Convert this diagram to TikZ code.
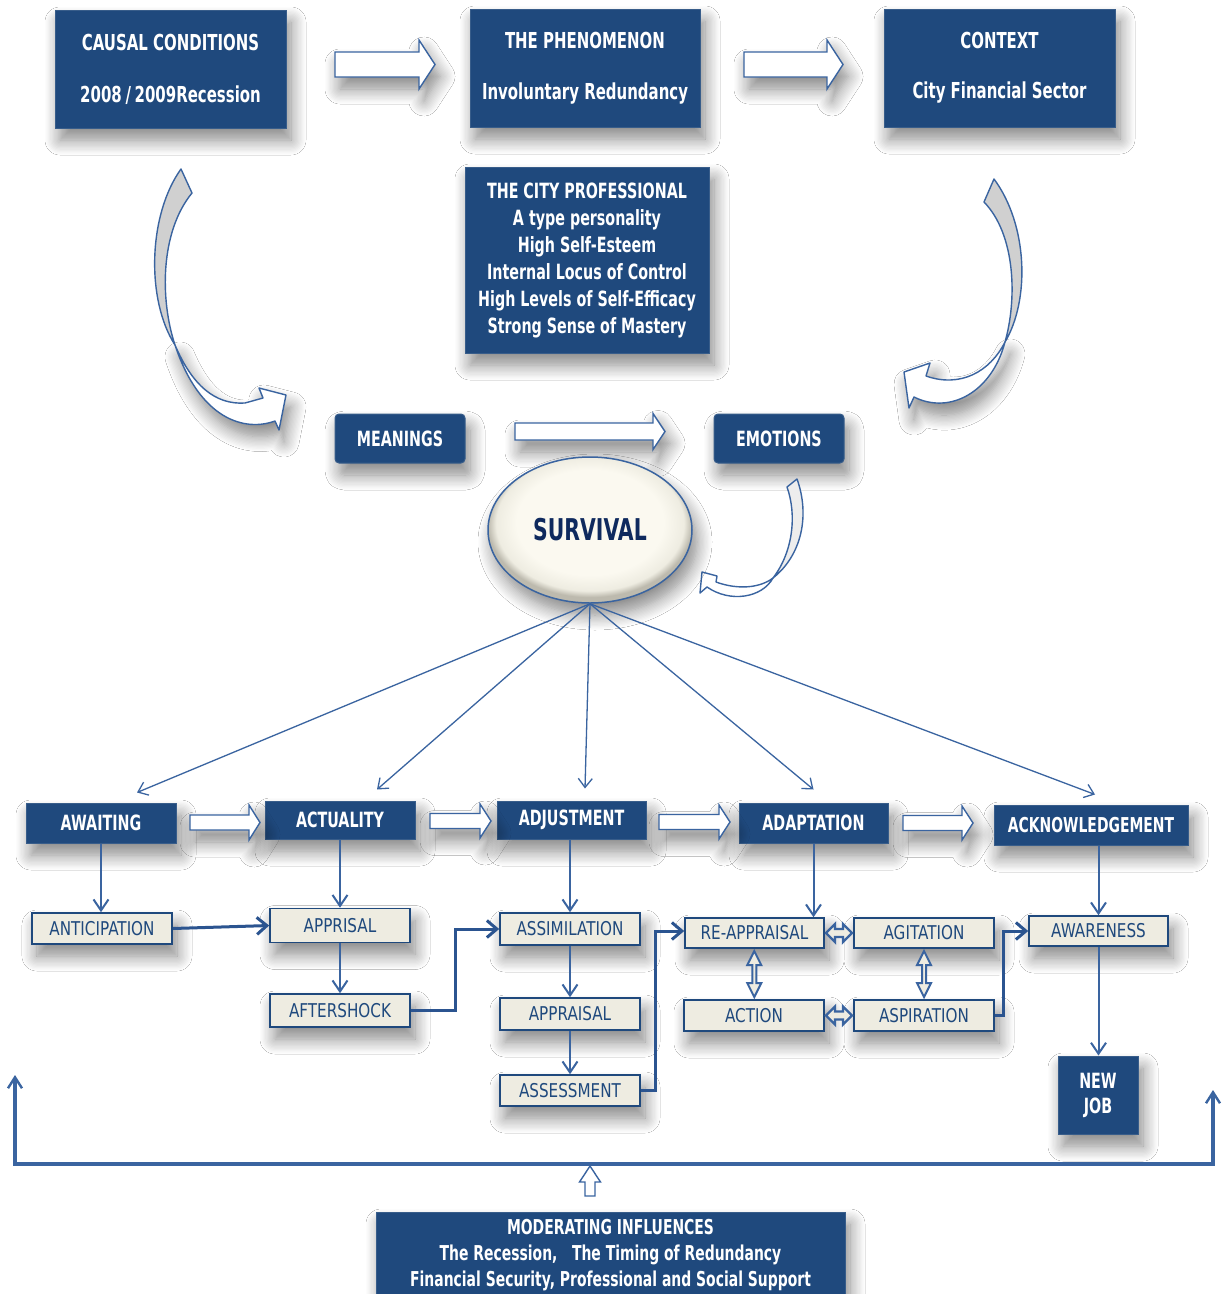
\documentclass[tikz,border=0pt]{standalone}
\usepackage{fontspec}
\setmainfont{DejaVu Sans}
\newfontfamily\cond[FakeStretch=0.68]{DejaVu Sans}
\newfontfamily\condr[FakeStretch=0.8]{DejaVu Sans}
\usetikzlibrary{arrows.meta,calc,shadows.blur,shapes.geometric}

\definecolor{navy}{HTML}{1F497D}
\definecolor{navyedge}{HTML}{385D8A}
\definecolor{link}{HTML}{3A64A0}
\definecolor{linkdark}{HTML}{2B5490}
\definecolor{paper}{HTML}{EEECE1}
\definecolor{creamhi}{HTML}{FBF9F0}
\definecolor{creamlo}{HTML}{BDBAAE}
\definecolor{survtext}{HTML}{0F2A5E}
\definecolor{ribbongray}{HTML}{D0D0D0}
\definecolor{ribbonlight}{HTML}{EDEDED}

\pgfdeclareradialshading{survshade}{\pgfpoint{0bp}{4bp}}{%
  color(0bp)=(creamhi); color(18bp)=(creamhi); color(23bp)=(paper);
  color(25bp)=(creamlo); color(50bp)=(creamlo)}

% hollow block arrows (left to right / bottom to top)
\newcommand\harrow[6]{% x1, x2, y, shaft half, head half, head length
  \draw[hollow,shadowed] ({#1},{#3-#4}) -- ({#2-#6},{#3-#4}) -- ({#2-#6},{#3-#5})
    -- ({#2},{#3}) -- ({#2-#6},{#3+#5}) -- ({#2-#6},{#3+#4}) -- ({#1},{#3+#4}) -- cycle;}
\newcommand\uparrowblk[6]{% x, ybottom, ytip, shaft half, head half, head length
  \draw[hollow] ({#1-#4},{#2}) -- ({#1-#4},{#3+#6}) -- ({#1-#5},{#3+#6})
    -- ({#1},{#3}) -- ({#1+#5},{#3+#6}) -- ({#1+#4},{#3+#6}) -- ({#1+#4},{#2}) -- cycle;}

\begin{document}
\begin{tikzpicture}[x=1pt,y=-1pt,
  shadowed/.style={blur shadow={shadow xshift=5pt,shadow yshift=-12pt,shadow blur radius=15pt,shadow blur steps=12,shadow opacity=48}},
  darkbox/.style={shadowed,fill=navy,draw=navyedge,line width=1pt,text=white,inner sep=0pt,align=center},
  stagebox/.style={darkbox,font=\cond\bfseries\fontsize{21}{21}\selectfont},
  creambox/.style={shadowed,fill=paper,draw=navy,line width=1.6pt,text=navy,inner sep=0pt,
    font=\condr\fontsize{19}{19}\selectfont},
  fan/.style={draw=link,line width=1.3pt,-{Straight Barb[length=9pt,width=14pt]}},
  drop/.style={draw=link,line width=2pt,-{Straight Barb[length=11pt,width=15pt]}},
  boldlink/.style={draw=linkdark,line width=3pt,-{Straight Barb[length=10pt,width=17pt]}},
  hollow/.style={draw=link,fill=white,line width=1.4pt,line join=miter},
  ribbon/.style={draw=link,line width=1.4pt,line join=round},
  hdbl/.pic={\draw[draw=link,fill=paper,line width=2.4pt,line join=miter]
    (-13,0) -- (-4,-9) -- (-4,-4) -- (4,-4) -- (4,-9) -- (13,0) -- (4,9) -- (4,4)
    -- (-4,4) -- (-4,9) -- cycle;},
  vdbl/.pic={\draw[draw=link,fill=paper,line width=2pt,line join=miter]
    (0,-23) -- (7,-9) -- (2,-9) -- (2,9) -- (7,9) -- (0,23) -- (-7,9) -- (-2,9)
    -- (-2,-9) -- (-7,-9) -- cycle;},
]
\fill[white] (0,0) rectangle (1222,1294);
\clip (0,0) rectangle (1222,1294);

% ---------- top row ----------
\node[darkbox,minimum width=231pt,minimum height=118pt,
  font=\cond\bfseries\fontsize{22}{52}\selectfont] (causal) at (170.5,69)
  {CAUSAL CONDITIONS\\2008\,/\,2009Recession};
\node[darkbox,minimum width=230pt,minimum height=118pt,
  font=\cond\bfseries\fontsize{22}{54}\selectfont] (phen) at (585,68)
  {\raisebox{-3pt}{THE PHENOMENON}\\Involuntary Redundancy};
\node[darkbox,minimum width=231pt,minimum height=118pt,
  font=\cond\bfseries\fontsize{22}{52}\selectfont] (context) at (999.5,68)
  {\raisebox{-2pt}{CONTEXT}\\City Financial Sector};
\harrow{335}{435}{64.5}{12.5}{24.5}{16}
\harrow{744}{843}{64.5}{12.5}{24.5}{16}

\node[darkbox,minimum width=244pt,minimum height=186pt,
  font=\cond\bfseries\fontsize{21}{27}\selectfont] (prof) at (587,260)
  {THE CITY PROFESSIONAL\\A type personality\\High Self-Esteem\\Internal Locus of Control\\High Levels of Self-Efficacy\\Strong Sense of Mastery};

% ---------- curved ribbon arrows ----------
% left: causal conditions -> meanings
\fill[ribbongray,ribbon,draw=link] (181,169) .. controls (148,215) and (146,300) .. (175,345)
  .. controls (160,300) and (160,232) .. (192,193) -- cycle;
\filldraw[ribbon,fill=white,shadowed] (175,345) .. controls (192,385) and (215,405) .. (245,403)
  -- (263,398) -- (259,388) -- (286,395) -- (279,430) -- (275,421)
  .. controls (245,432) and (200,420) .. (175,345) -- cycle;
% right: context -> emotions
\fill[ribbongray,ribbon,draw=link] (994,179) .. controls (1028,225) and (1030,300) .. (1005,342)
  .. controls (1017,300) and (1016,235) .. (984,202) -- cycle;
\filldraw[ribbon,fill=white,shadowed] (1005,342) .. controls (990,372) and (960,388) .. (926,376)
  -- (930,363) -- (904,372) -- (909,408) -- (914,397)
  .. controls (950,415) and (992,392) .. (1005,342) -- cycle;

% ---------- meanings / emotions ----------
\node[stagebox,rounded corners=4pt,minimum width=130pt,minimum height=49pt] (mean) at (400,438.5) {MEANINGS};
\node[stagebox,rounded corners=4pt,minimum width=130pt,minimum height=49pt] (emo) at (779,438.5) {EMOTIONS};
\harrow{515}{665}{431.5}{8.5}{18}{12}

% emotions -> survival
\fill[ribbonlight,ribbon,draw=link] (797,479) .. controls (810,515) and (802,555) .. (773,578)
  .. controls (793,552) and (797,515) .. (787,487) -- cycle;
\filldraw[ribbon,fill=white] (773,578) .. controls (760,588) and (738,590) .. (716,582)
  -- (717,576) -- (702,572) -- (700,593) -- (707,587)
  .. controls (730,603) and (762,598) .. (773,578) -- cycle;

% ---------- survival ----------
\node[ellipse,shadowed,draw=link,line width=1.5pt,shade,shading=survshade,
  minimum width=204pt,minimum height=146pt,text=survtext,
  font=\cond\bfseries\fontsize{30}{30}\selectfont] (surv) at (590,530) {\raisebox{-4pt}{SURVIVAL}};

% ---------- stages ----------
\node[stagebox,minimum width=150pt,minimum height=40pt] (await) at (101,823) {AWAITING};
\node[stagebox,minimum width=150pt,minimum height=38pt] (actual) at (340,820) {ACTUALITY};
\node[stagebox,minimum width=149pt,minimum height=38pt] (adjust) at (571.5,820) {ADJUSTMENT};
\node[stagebox,minimum width=149pt,minimum height=40pt] (adapt) at (813.5,823) {ADAPTATION};
\node[stagebox,minimum width=194pt,minimum height=40pt,
  font=\cond\bfseries\fontsize{20.5}{20.5}\selectfont] (ack) at (1091,825) {ACKNOWLEDGEMENT};

\harrow{190}{260}{822.5}{7.5}{17.5}{11}
\harrow{430}{491}{821}{7.5}{17}{11}
\harrow{659}{730}{822}{7.5}{17}{11}
\harrow{903}{973}{823}{7.5}{17}{11}

\draw[fan] (surv.south) -- ($(await.north)+(36,-10)$);
\draw[fan] (surv.south) -- ($(actual.north)+(37,-11)$);
\draw[fan] (surv.south) -- ($(adjust.north)+(13.5,-12)$);
\draw[fan] (surv.south) -- ($(adapt.north)+(0,-13)$);
\draw[fan] (surv.south) -- ($(ack.north)+(4,-10)$);

% ---------- sub-stages ----------
\node[creambox,minimum width=140pt,minimum height=31pt] (antic) at (102,928.5) {ANTICIPATION};
\node[creambox,minimum width=140pt,minimum height=34pt] (apris) at (340,925.5) {APPRISAL};
\node[creambox,minimum width=140pt,minimum height=33pt] (after) at (340,1010.5) {AFTERSHOCK};
\node[creambox,minimum width=140pt,minimum height=32pt] (assim) at (570,929) {ASSIMILATION};
\node[creambox,minimum width=140pt,minimum height=32pt] (appr) at (570,1014) {APPRAISAL};
\node[creambox,minimum width=140pt,minimum height=31pt] (assess) at (570,1090.5) {ASSESSMENT};
\node[creambox,minimum width=139pt,minimum height=30pt] (reapp) at (754.5,933) {RE-APPRAISAL};
\node[creambox,minimum width=140pt,minimum height=30pt] (agit) at (924,933) {AGITATION};
\node[creambox,minimum width=140pt,minimum height=31pt] (action) at (754,1015.5) {ACTION};
\node[creambox,minimum width=140pt,minimum height=31pt] (aspir) at (924,1015.5) {ASPIRATION};
\node[creambox,minimum width=139pt,minimum height=30pt] (aware) at (1098.5,931) {AWARENESS};
\node[darkbox,minimum width=80pt,minimum height=78pt,
  font=\cond\bfseries\fontsize{21}{25}\selectfont] (newjob) at (1098,1095) {NEW\\JOB};

% vertical drops
\draw[drop] (await.south) -- (await.south |- antic.north);
\draw[drop] (actual.south) -- (apris.north);
\draw[drop] (apris.south) -- (after.north);
\draw[drop] (adjust.south -| assim.north) -- (assim.north);
\draw[drop] (assim.south) -- (appr.north);
\draw[drop] (appr.south) -- (assess.north);
\draw[drop] (adapt.south) -- (adapt.south |- reapp.north);
\draw[drop] (ack.south -| aware.north) -- (aware.north);
\draw[drop] (aware.south) -- (aware.south |- newjob.north);

% elbow links
\draw[boldlink] (antic.east) -- (apris.west);
\draw[boldlink] (after.east) -- ++(45,0) |- (assim.west);
\draw[boldlink] (assess.east) -- ++(15,0) |- ($(reapp.west)+(0,-2)$);
\draw[boldlink] (aspir.east) -- ++(9,0) |- (aware.west);

% two-way links in the adaptation block
\pic at ($(reapp.east)!0.5!(agit.west)$) {hdbl};
\pic at ($(action.east)!0.5!(aspir.west)$) {hdbl};
\pic at ($(reapp.south)!0.5!(action.north)$) {vdbl};
\pic at ($(agit.south)!0.5!(aspir.north)$) {vdbl};

% ---------- moderating influences ----------
\node[darkbox,minimum width=469pt,minimum height=86pt,
  font=\cond\bfseries\fontsize{20.5}{26}\selectfont] (moder) at (610.5,1255)
  {MODERATING INFLUENCES\\The Recession,\ \ \ The Timing of Redundancy\\Financial Security, Professional and Social Support};

\coordinate (fbL) at (15,1075);
\coordinate (fbR) at (1213,1090);
\draw[draw=link,line width=3.4pt,{Straight Barb[length=11pt,width=14pt,line width=2.4pt]}-{Straight Barb[length=11pt,width=14pt,line width=2.4pt]}]
  (fbL) -- (fbL |- 0,1164) -- (fbR |- 0,1164) -- (fbR);
\uparrowblk{590}{1196}{1166}{5}{10.5}{16}
\end{tikzpicture}
\end{document}
